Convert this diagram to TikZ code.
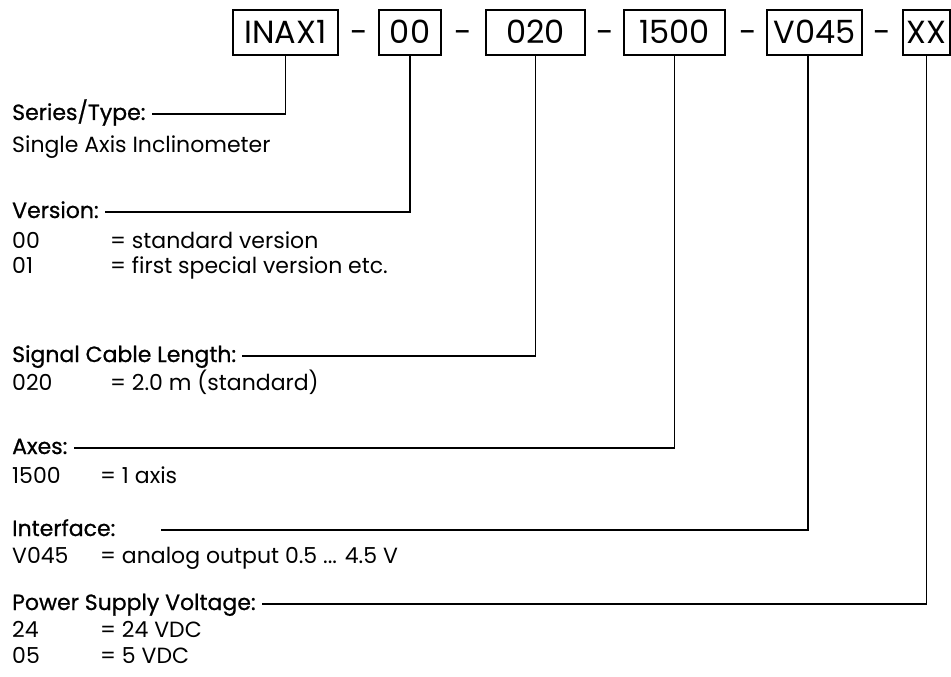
\documentclass[tikz,border=0pt]{standalone}
\usepackage{fontspec}
\setmainfont{Poppins}
\newfontfamily\hdrfont[FakeBold=0.8]{Poppins}
\usetikzlibrary{calc}
\newcommand{\colA}[1]{\makebox[98pt][l]{#1}}
\newcommand{\colB}[1]{\makebox[88pt][l]{#1}}
\begin{document}
\begin{tikzpicture}[x=1pt,y=-1pt,
  body/.style={anchor=base west, inner sep=0pt, font=\fontsize{22}{26}\selectfont},
  hdr/.style={anchor=base west, inner sep=0pt, font=\hdrfont\fontsize{22}{26}\selectfont},
  codebox/.style={draw, line width=1.1pt, minimum height=45pt, inner sep=0pt, text height=23pt, text depth=0pt, font=\fontsize{32}{36}\selectfont},
  sep/.style={inner sep=0pt, text height=23pt, text depth=0pt, font=\fontsize{32}{36}\selectfont},
  conn/.style={line width=1.1pt}]
\useasboundingbox (0,0) rectangle (951,677);

% code boxes
\node[codebox, minimum width=105pt] (b1) at (285.5,32.5) {INAX1};
\node[codebox, minimum width=62pt]  (b2) at (410,32.5)   {00};
\node[codebox, minimum width=99pt]  (b3) at (535.5,32.5) {020};
\node[codebox, minimum width=101pt] (b4) at (674.5,32.5) {1500};
\node[codebox, minimum width=95pt]  (b5) at (814.5,32.5) {V045};
\node[codebox, minimum width=47pt]  (b6) at (926.5,32.5) {XX};
\node[sep] (d1) at (359,32.5) {-};
\node[sep] (d2) at (463.5,32.5) {-};
\node[sep] (d3) at (605,32.5) {-};
\node[sep] (d4) at (748,32.5) {-};
\node[sep] (d5) at (882,32.5) {-};

% labels
\node[hdr]  (hs) at (12,120) {Series/Type:};
\node[body] (ts) at (12,152) {Single Axis Inclinometer};

\node[hdr]  (hv) at (12,218) {Version:};
\node[body] (tv1) at (12,248) {\colA{00}= standard version};
\node[body] (tv2) at (12,273) {\colA{01}= first special version etc.};

\node[hdr]  (hc) at (12,362) {Signal Cable Length:};
\node[body] (tc) at (12,390) {\colA{020}= 2.0 m (standard)};

\node[hdr]  (ha) at (12,454) {Axes:};
\node[body] (ta) at (12,483) {\colB{1500}= 1 axis};

\node[hdr]  (hi) at (12,536) {Interface:};
\node[body] (ti) at (12,563) {\colB{V045}= analog output 0.5 ... 4.5 V};

\node[hdr]  (hp) at (12,610) {Power Supply Voltage:};
\node[body] (tp1) at (12,637) {\colB{24}= 24 VDC};
\node[body] (tp2) at (12,663) {\colB{05}= 5 VDC};

% connectors
\draw[conn] (b1.south) |- ($(hs.base east)+(6,-6)$);
\draw[conn] (b2.south) |- ($(hv.base east)+(6,-6)$);
\draw[conn] (b3.south) |- ($(hc.base east)+(6,-6)$);
\draw[conn] (b4.south) |- ($(ha.base east)+(6,-6)$);
\draw[conn] ([xshift=-6.5pt]b5.south) |- ($(hi.base east)+(45,-6)$);
\draw[conn] (b6.south) |- ($(hp.base east)+(6,-6)$);
\end{tikzpicture}
\end{document}
